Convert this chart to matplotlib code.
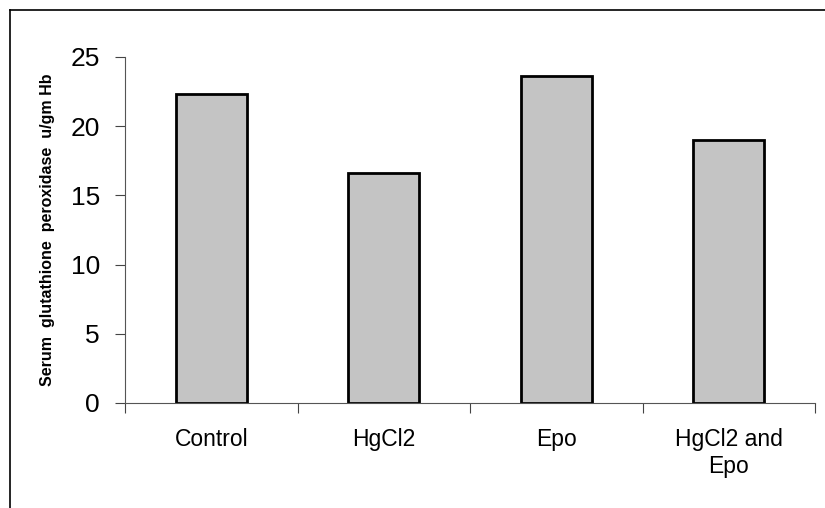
import matplotlib
matplotlib.use("Agg")
import matplotlib.pyplot as plt
from matplotlib.lines import Line2D

# values
groups = ["Control", "HgCl2", "Epo", "HgCl2 and\nEpo"]
gpx = [22.3, 16.6, 23.6, 19.0]
yticks = [0, 5, 10, 15, 20, 25]

plt.rcParams["font.family"] = ["Liberation Sans", "DejaVu Sans"]

fig = plt.figure(figsize=(8.25, 5.08), dpi=100, facecolor="white")
ax = fig.add_axes([125 / 825, 1 - 403 / 508, 690 / 825, 346 / 508])

x = list(range(len(groups)))
ax.bar(x, gpx, width=0.41, color="#c4c4c4", edgecolor="black", linewidth=2, zorder=2)

ax.set_xlim(-0.5, len(groups) - 0.5)
ax.set_ylim(0, 25)
ax.set_yticks(yticks)
ax.set_yticklabels([str(t) for t in yticks], fontsize=19)
ax.set_xticks(x)
ax.set_xticklabels(groups, fontsize=16.5, linespacing=1.25)
ax.tick_params(axis="x", length=0, pad=18)
ax.tick_params(axis="y", length=7, width=0.8, colors="#444444", labelcolor="black", pad=11)

# category boundary ticks on the x axis
ax.set_xticks([i - 0.5 for i in range(len(groups) + 1)], minor=True)
ax.tick_params(axis="x", which="minor", length=7, width=0.8, color="#444444")

for side in ("top", "right"):
    ax.spines[side].set_visible(False)
for side in ("left", "bottom"):
    ax.spines[side].set_color("#555555")
    ax.spines[side].set_linewidth(0.8)

ax.set_ylabel("Serum  glutathione  peroxidase  u/gm Hb", fontsize=11.5,
              fontweight="bold", labelpad=11)

# outer chart frame (left and top only are visible in the reference)
fig.add_artist(Line2D([10 / 825, 10 / 825], [0, 1 - 10 / 508],
                      transform=fig.transFigure, color="black", lw=1.2))
fig.add_artist(Line2D([10 / 825, 1], [1 - 10 / 508, 1 - 10 / 508],
                      transform=fig.transFigure, color="black", lw=1.2))

fig.savefig("out.png", dpi=100, facecolor="white")
